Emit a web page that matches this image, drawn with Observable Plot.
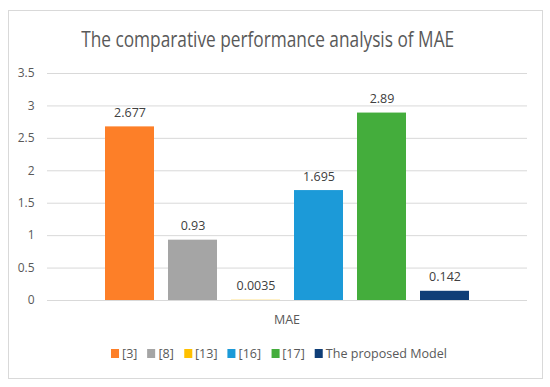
<!DOCTYPE html>
<html>
<head>
<meta charset="utf-8">
<script src="https://cdn.jsdelivr.net/npm/d3@7"></script>
<script src="https://cdn.jsdelivr.net/npm/@observablehq/plot@0.6"></script>
<style>
  html, body { margin: 0; padding: 0; background: #fff; }
  #wrap { position: relative; width: 550px; height: 387px; overflow: hidden; font-family: "Open Sans", sans-serif; }
  #frame { position: absolute; left: 8px; top: 10px; width: 535px; height: 369px; border: 1px solid #d9d9d9; box-sizing: border-box; }
  #title { position: absolute; left: 0; top: 23px; width: 536px; text-align: center; font-size: 22px; color: #595959; white-space: nowrap; }
  #title span { display: inline-block; transform-origin: center; }
  #chart { position: absolute; left: 0; top: 0; }
  #xlabel { position: absolute; left: 47px; width: 480px; top: 311px; text-align: center; font-size: 12.5px; color: #595959; }
  #legend { position: absolute; left: 111px; top: 345px; display: flex; justify-content: flex-start; gap: 10px; font-size: 12.5px; color: #595959; white-space: nowrap; transform-origin: left center; }
  #legend .it { display: flex; align-items: center; gap: 3px; }
  #legend .sw { width: 8px; height: 9px; display: inline-block; }
</style>
</head>
<body>
<div id="wrap">
  <div id="frame"></div>
  <div id="title"><span>The comparative performance analysis of MAE</span></div>
  <div id="chart"></div>
  <div id="xlabel">MAE</div>
  <div id="legend"></div>
</div>
<script>
const series = ["[3]", "[8]", "[13]", "[16]", "[17]", "The proposed Model"];
const values = [2.677, 0.93, 0.0035, 1.695, 2.89, 0.142];
const labels = ["2.677", "0.93", "0.0035", "1.695", "2.89", "0.142"];
const colors = ["#fd7f28", "#a5a5a5", "#ffc000", "#1c9ad8", "#44ad3c", "#0f3e77"];
const yTicks = [0, 0.5, 1, 1.5, 2, 2.5, 3, 3.5];
const yTickLabels = ["0", "0.5", "1", "1.5", "2", "2.5", "3", "3.5"];

const data = series.map((s, i) => ({series: s, value: values[i], label: labels[i]}));

const plot = Plot.plot({
  width: 550,
  height: 387,
  marginTop: 73,
  marginBottom: 87,
  marginLeft: 47,
  marginRight: 23,
  style: {fontFamily: "'Open Sans', sans-serif", background: "transparent", overflow: "visible"},
  x: {domain: series, paddingInner: 0.216, paddingOuter: 0.868, axis: null},
  y: {domain: [0, 3.5], label: null},
  color: {domain: series, range: colors},
  marks: [
    Plot.ruleY(yTicks, {stroke: "#d9d9d9", strokeWidth: 1}),
    Plot.barY(data, {x: "series", y: "value", fill: "series"}),
    Plot.text(data, {x: "series", y: "value", text: "label", lineAnchor: "bottom", dy: -10, fill: "#404040", fontSize: 12.5}),
    Plot.axisY({ticks: yTicks, label: null, tickSize: 0, tickPadding: 13, fontSize: 12, color: "#595959", tickFormat: (d) => yTickLabels[yTicks.indexOf(d)]})
  ]
});
document.getElementById("chart").appendChild(plot);

// legend
const legend = document.getElementById("legend");
series.forEach((s, i) => {
  const it = document.createElement("div");
  it.className = "it";
  const sw = document.createElement("span");
  sw.className = "sw";
  sw.style.background = colors[i];
  const t = document.createElement("span");
  t.textContent = s;
  it.appendChild(sw); it.appendChild(t);
  legend.appendChild(it);
});
const lw = legend.getBoundingClientRect().width;
legend.style.transform = `scaleX(${336 / lw})`;

// fit title width to the reference's narrow face
const ts = document.querySelector("#title span");
const w = ts.getBoundingClientRect().width;
ts.style.transform = `scaleX(${373 / w})`;
</script>
</body>
</html>
